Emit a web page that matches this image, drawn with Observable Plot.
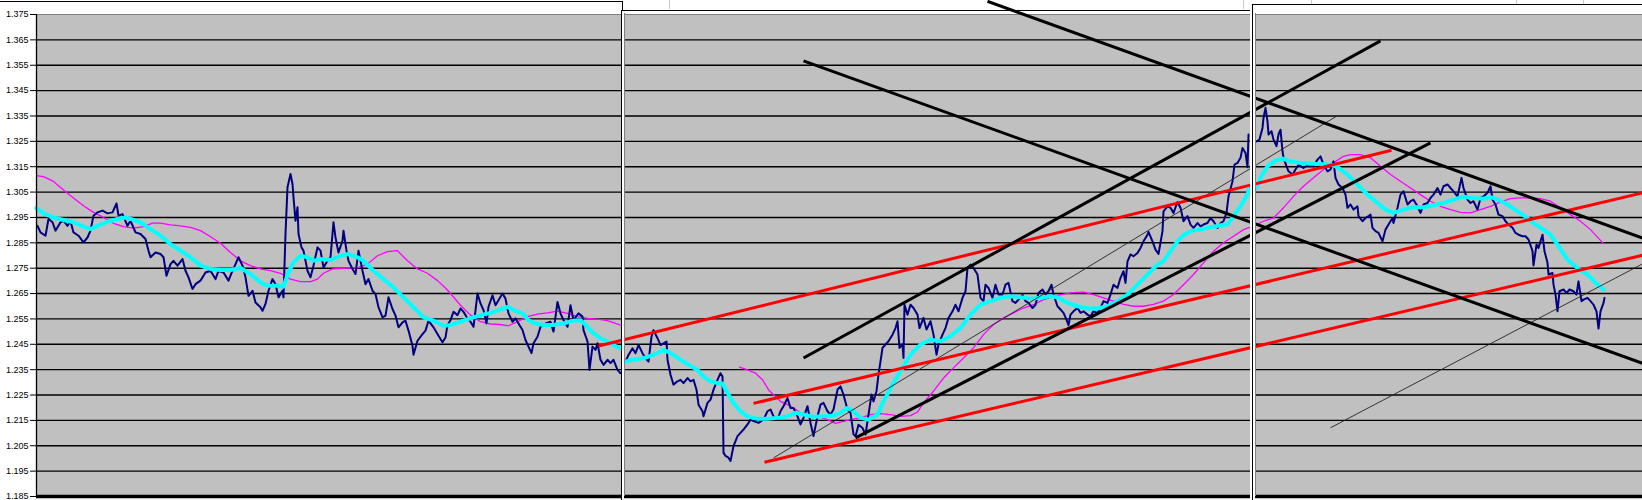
<!DOCTYPE html>
<html><head><meta charset="utf-8">
<script src="https://cdn.jsdelivr.net/npm/d3@7"></script>
<script src="https://cdn.jsdelivr.net/npm/@observablehq/plot@0.6"></script>
<style>
html,body{margin:0;padding:0;background:#fff;}
#wrap{position:relative;width:1642px;height:500px;overflow:hidden;background:#fff;}
#wrap svg{display:block;}
.ov{position:absolute;pointer-events:none;}
</style></head><body><div id="wrap"></div>
<script>
// y tick values
const yTicks = [1.185,1.195,1.205,1.215,1.225,1.235,1.245,1.255,1.265,1.275,1.285,1.295,1.305,1.315,1.325,1.335,1.345,1.355,1.365,1.375];

// time extent (bar index) of each chart window
const panels = [{start:0,end:585},{start:588,end:1214},{start:1219,end:1606}];

// price (bar, value) per window
const price1 = [[1,1.2917],[4,1.2891],[9,1.2878],[12,1.2944],[16,1.2931],[19,1.2898],[24,1.2931],[27,1.2937],[31,1.2917],[34,1.2935],[37,1.2891],[42,1.2878],[47,1.2852],[51,1.2871],[54,1.2898],[57,1.2957],[61,1.2970],[66,1.2977],[71,1.2966],[76,1.2970],[80,1.3005],[82,1.2957],[86,1.2963],[91,1.2917],[94,1.2937],[99,1.2891],[104,1.2885],[109,1.2865],[112,1.2819],[114,1.2793],[119,1.2812],[124,1.2806],[127,1.2793],[130,1.2720],[134,1.2766],[137,1.2779],[141,1.2760],[146,1.2786],[149,1.2740],[152,1.2714],[156,1.2668],[159,1.2687],[164,1.2701],[169,1.2733],[174,1.2740],[179,1.2707],[182,1.2740],[187,1.2733],[192,1.2701],[196,1.2740],[199,1.2766],[202,1.2793],[206,1.2760],[209,1.2714],[212,1.2641],[216,1.2661],[219,1.2615],[224,1.2596],[226,1.2582],[229,1.2609],[232,1.2661],[236,1.2707],[239,1.2687],[242,1.2635],[246,1.2661],[247,1.2635],[249,1.2885],[251,1.3069],[254,1.3121],[256,1.3082],[257,1.3029],[259,1.2937],[261,1.2990],[262,1.2885],[265,1.2832],[267,1.2819],[271,1.2740],[274,1.2714],[277,1.2760],[281,1.2832],[284,1.2819],[287,1.2753],[291,1.2779],[294,1.2793],[297,1.2931],[299,1.2871],[302,1.2812],[306,1.2858],[307,1.2898],[310,1.2819],[312,1.2779],[316,1.2747],[319,1.2727],[322,1.2819],[326,1.2740],[329,1.2687],[332,1.2707],[336,1.2661],[339,1.2648],[342,1.2596],[346,1.2556],[349,1.2563],[352,1.2635],[356,1.2589],[359,1.2563],[362,1.2517],[366,1.2536],[369,1.2543],[372,1.2504],[376,1.2444],[377,1.2409],[381,1.2464],[386,1.2490],[389,1.2504],[392,1.2543],[397,1.2517],[402,1.2484],[406,1.2458],[409,1.2477],[411,1.2526],[414,1.2545],[417,1.2578],[421,1.2565],[424,1.2591],[427,1.2578],[431,1.2552],[434,1.2539],[437,1.2519],[441,1.2650],[444,1.2611],[447,1.2585],[450,1.2532],[452,1.2598],[456,1.2643],[459,1.2604],[462,1.2624],[466,1.2650],[469,1.2630],[472,1.2572],[476,1.2539],[479,1.2552],[482,1.2532],[486,1.2506],[489,1.2467],[492,1.2441],[495,1.2415],[497,1.2454],[501,1.2480],[504,1.2519],[509,1.2532],[514,1.2539],[517,1.2500],[521,1.2617],[524,1.2572],[527,1.2545],[531,1.2519],[534,1.2604],[537,1.2545],[542,1.2572],[546,1.2559],[547,1.2506],[551,1.2461],[553,1.2349],[556,1.2441],[559,1.2428],[561,1.2454],[564,1.2389],[567,1.2369],[571,1.2389],[574,1.2376],[577,1.2389],[581,1.2349],[584,1.2336]];
const price2 = [[589,1.2382],[592,1.2408],[596,1.2434],[599,1.2415],[602,1.2447],[606,1.2415],[609,1.2395],[612,1.2382],[615,1.2480],[617,1.2506],[621,1.2474],[624,1.2447],[627,1.2454],[630,1.2461],[631,1.2389],[634,1.2330],[637,1.2291],[641,1.2304],[644,1.2310],[647,1.2297],[651,1.2317],[654,1.2304],[657,1.2310],[660,1.2271],[662,1.2212],[666,1.2186],[667,1.2166],[671,1.2219],[674,1.2232],[677,1.2271],[681,1.2310],[684,1.2336],[686,1.2323],[687,1.2023],[689,1.2010],[692,1.2003],[694,1.1990],[697,1.2049],[701,1.2088],[704,1.2101],[707,1.2114],[711,1.2134],[714,1.2153],[717,1.2147],[722,1.2140],[727,1.2153],[731,1.2186],[734,1.2193],[737,1.2166],[741,1.2153],[744,1.2186],[747,1.2206],[751,1.2238],[754,1.2199],[757,1.2199],[761,1.2166],[764,1.2134],[767,1.2160],[771,1.2206],[774,1.2140],[777,1.2088],[781,1.2166],[784,1.2212],[787,1.2219],[791,1.2186],[794,1.2173],[797,1.2193],[801,1.2271],[804,1.2284],[807,1.2251],[811,1.2193],[814,1.2180],[817,1.2095],[819,1.2087],[822,1.2133],[826,1.2120],[829,1.2094],[832,1.2173],[835,1.2252],[837,1.2225],[840,1.2265],[842,1.2331],[844,1.2383],[846,1.2436],[849,1.2449],[852,1.2462],[856,1.2488],[859,1.2514],[861,1.2541],[863,1.2436],[866,1.2449],[867,1.2396],[868,1.2606],[871,1.2567],[874,1.2606],[877,1.2593],[881,1.2567],[883,1.2514],[887,1.2554],[890,1.2508],[894,1.2541],[897,1.2488],[900,1.2409],[902,1.2449],[906,1.2488],[909,1.2514],[912,1.2554],[916,1.2580],[919,1.2606],[922,1.2580],[926,1.2633],[929,1.2659],[931,1.2751],[934,1.2764],[937,1.2751],[941,1.2725],[944,1.2633],[947,1.2620],[949,1.2685],[952,1.2672],[956,1.2633],[959,1.2685],[962,1.2646],[966,1.2646],[969,1.2685],[972,1.2692],[976,1.2620],[979,1.2613],[982,1.2626],[986,1.2646],[989,1.2620],[992,1.2613],[996,1.2593],[999,1.2606],[1002,1.2652],[1006,1.2666],[1009,1.2646],[1012,1.2659],[1015,1.2685],[1017,1.2646],[1021,1.2600],[1024,1.2587],[1027,1.2574],[1030,1.2547],[1032,1.2525],[1034,1.2567],[1037,1.2580],[1041,1.2593],[1044,1.2574],[1047,1.2580],[1051,1.2567],[1054,1.2560],[1057,1.2580],[1061,1.2574],[1064,1.2593],[1067,1.2620],[1071,1.2613],[1074,1.2646],[1077,1.2685],[1081,1.2672],[1084,1.2712],[1087,1.2738],[1089,1.2692],[1091,1.2777],[1094,1.2804],[1097,1.2797],[1101,1.2810],[1104,1.2830],[1107,1.2856],[1111,1.2882],[1112,1.2893],[1116,1.2856],[1119,1.2823],[1122,1.2806],[1126,1.2896],[1127,1.2974],[1131,1.2994],[1134,1.2988],[1137,1.2968],[1141,1.3011],[1144,1.2988],[1147,1.2935],[1151,1.2955],[1154,1.2922],[1157,1.2909],[1161,1.2928],[1164,1.2915],[1167,1.2922],[1171,1.2928],[1174,1.2948],[1177,1.2935],[1181,1.2909],[1184,1.2928],[1187,1.2935],[1190,1.2968],[1192,1.3033],[1196,1.3093],[1198,1.3158],[1201,1.3165],[1204,1.3185],[1206,1.3224],[1209,1.3204],[1211,1.3148],[1212,1.3277]];
const price3 = [[1220,1.3250],[1223,1.3257],[1226,1.3303],[1227,1.3342],[1229,1.3382],[1231,1.3329],[1232,1.3277],[1235,1.3290],[1237,1.3257],[1240,1.3231],[1242,1.3277],[1244,1.3296],[1246,1.3211],[1247,1.3185],[1250,1.3152],[1252,1.3132],[1256,1.3119],[1259,1.3139],[1262,1.3158],[1267,1.3145],[1272,1.3158],[1277,1.3152],[1281,1.3178],[1284,1.3191],[1287,1.3158],[1291,1.3132],[1294,1.3139],[1297,1.3171],[1299,1.3106],[1302,1.3080],[1306,1.3066],[1309,1.3040],[1311,1.2988],[1314,1.3001],[1317,1.2981],[1321,1.2994],[1322,1.2955],[1326,1.2935],[1329,1.2948],[1332,1.2955],[1334,1.2961],[1336,1.2909],[1339,1.2896],[1342,1.2889],[1346,1.2856],[1349,1.2902],[1352,1.2922],[1356,1.2948],[1357,1.2928],[1361,1.2988],[1364,1.3040],[1367,1.3053],[1371,1.3001],[1374,1.3014],[1377,1.3020],[1381,1.2994],[1384,1.2968],[1387,1.3001],[1391,1.3007],[1394,1.3027],[1397,1.3040],[1401,1.3066],[1404,1.3040],[1407,1.3073],[1411,1.3080],[1414,1.3066],[1417,1.3053],[1421,1.3033],[1425,1.3106],[1427,1.3066],[1431,1.3020],[1434,1.3007],[1437,1.3014],[1441,1.2981],[1444,1.3027],[1447,1.3033],[1451,1.3047],[1454,1.3073],[1456,1.3020],[1459,1.3001],[1462,1.2961],[1466,1.2955],[1469,1.2935],[1472,1.2922],[1476,1.2909],[1479,1.2889],[1482,1.2882],[1486,1.2876],[1489,1.2876],[1492,1.2863],[1496,1.2817],[1497,1.2761],[1500,1.2843],[1502,1.2830],[1506,1.2882],[1508,1.2817],[1511,1.2771],[1512,1.2725],[1516,1.2731],[1517,1.2685],[1519,1.2646],[1521,1.2580],[1523,1.2659],[1527,1.2666],[1530,1.2652],[1533,1.2666],[1537,1.2659],[1540,1.2646],[1542,1.2698],[1545,1.2620],[1547,1.2626],[1551,1.2633],[1554,1.2620],[1557,1.2606],[1560,1.2580],[1562,1.2512],[1564,1.2580],[1567,1.2613],[1568,1.2633]];

// fast moving average (cyan)
const fast1 = [[0,1.2987],[7,1.2966],[17,1.2950],[27,1.2940],[37,1.2931],[47,1.2914],[54,1.2904],[61,1.2917],[71,1.2933],[81,1.2944],[89,1.2950],[94,1.2944],[104,1.2931],[114,1.2904],[124,1.2878],[134,1.2845],[144,1.2819],[154,1.2793],[164,1.2760],[174,1.2747],[184,1.2743],[194,1.2743],[204,1.2751],[214,1.2727],[224,1.2694],[231,1.2681],[241,1.2681],[247,1.2677],[252,1.2733],[257,1.2773],[264,1.2799],[271,1.2793],[277,1.2779],[284,1.2786],[294,1.2782],[304,1.2799],[312,1.2806],[321,1.2793],[327,1.2779],[337,1.2740],[347,1.2707],[357,1.2674],[367,1.2635],[377,1.2596],[387,1.2556],[397,1.2543],[407,1.2523],[414,1.2526],[424,1.2539],[434,1.2552],[444,1.2565],[454,1.2574],[464,1.2587],[471,1.2598],[477,1.2585],[486,1.2572],[492,1.2545],[499,1.2532],[507,1.2526],[517,1.2526],[527,1.2532],[537,1.2543],[544,1.2545],[551,1.2519],[557,1.2493],[564,1.2474],[571,1.2461],[577,1.2447],[584,1.2434]];
const fast2 = [[589,1.2382],[597,1.2389],[607,1.2395],[617,1.2408],[627,1.2428],[634,1.2415],[644,1.2389],[654,1.2365],[661,1.2349],[667,1.2323],[674,1.2304],[681,1.2297],[686,1.2295],[691,1.2258],[697,1.2219],[704,1.2186],[711,1.2166],[721,1.2156],[731,1.2156],[741,1.2160],[751,1.2166],[759,1.2180],[767,1.2173],[777,1.2164],[787,1.2166],[797,1.2169],[804,1.2180],[811,1.2199],[817,1.2186],[824,1.2160],[832,1.2153],[841,1.2173],[847,1.2225],[856,1.2291],[864,1.2344],[874,1.2409],[884,1.2449],[894,1.2468],[904,1.2462],[914,1.2482],[924,1.2514],[934,1.2567],[944,1.2606],[954,1.2620],[964,1.2633],[974,1.2639],[984,1.2635],[994,1.2630],[1004,1.2633],[1014,1.2639],[1021,1.2635],[1031,1.2613],[1041,1.2600],[1051,1.2591],[1061,1.2591],[1071,1.2600],[1081,1.2620],[1091,1.2646],[1101,1.2685],[1111,1.2725],[1121,1.2764],[1127,1.2777],[1134,1.2817],[1141,1.2856],[1147,1.2880],[1154,1.2896],[1164,1.2903],[1174,1.2911],[1184,1.2919],[1191,1.2922],[1197,1.2955],[1204,1.2994],[1211,1.3040],[1213,1.3066]];
const fast3 = [[1220,1.3066],[1224,1.3106],[1231,1.3152],[1239,1.3174],[1246,1.3182],[1254,1.3171],[1264,1.3165],[1274,1.3162],[1284,1.3161],[1294,1.3158],[1301,1.3148],[1311,1.3119],[1321,1.3080],[1331,1.3040],[1341,1.3007],[1349,1.2981],[1357,1.2968],[1367,1.2981],[1377,1.2990],[1387,1.2990],[1397,1.2997],[1407,1.3007],[1417,1.3020],[1427,1.3032],[1437,1.3027],[1447,1.3024],[1454,1.3030],[1462,1.3020],[1471,1.3001],[1481,1.2974],[1491,1.2948],[1497,1.2928],[1507,1.2902],[1514,1.2882],[1521,1.2843],[1531,1.2784],[1541,1.2751],[1551,1.2725],[1561,1.2685],[1567,1.2666]];

// slow moving average (magenta)
const slow1 = [[0,1.3115],[7,1.3111],[17,1.3092],[27,1.3058],[37,1.3027],[47,1.2996],[57,1.2970],[67,1.2950],[77,1.2927],[87,1.2914],[97,1.2908],[107,1.2914],[116,1.2928],[124,1.2928],[134,1.2921],[144,1.2917],[154,1.2911],[164,1.2898],[174,1.2874],[184,1.2848],[194,1.2812],[204,1.2779],[214,1.2760],[224,1.2747],[234,1.2740],[244,1.2730],[254,1.2707],[264,1.2697],[274,1.2697],[281,1.2707],[287,1.2730],[296,1.2747],[307,1.2749],[321,1.2751],[331,1.2766],[341,1.2799],[351,1.2815],[361,1.2819],[371,1.2779],[381,1.2747],[391,1.2730],[401,1.2701],[409,1.2672],[414,1.2650],[424,1.2604],[434,1.2565],[444,1.2539],[454,1.2530],[464,1.2528],[472,1.2523],[481,1.2539],[491,1.2559],[501,1.2569],[511,1.2574],[521,1.2581],[531,1.2572],[541,1.2559],[551,1.2552],[561,1.2549],[571,1.2543],[584,1.2526]];
const slow2 = [[703,1.2360],[711,1.2349],[719,1.2336],[726,1.2310],[732,1.2271],[737,1.2251],[744,1.2225],[751,1.2212],[757,1.2199],[764,1.2180],[771,1.2173],[781,1.2166],[791,1.2153],[799,1.2138],[804,1.2143],[814,1.2153],[824,1.2160],[834,1.2173],[844,1.2177],[854,1.2173],[864,1.2166],[874,1.2169],[881,1.2183],[887,1.2219],[897,1.2265],[907,1.2317],[917,1.2357],[927,1.2396],[937,1.2436],[947,1.2488],[957,1.2528],[967,1.2554],[977,1.2574],[987,1.2593],[997,1.2606],[1007,1.2626],[1017,1.2639],[1027,1.2648],[1037,1.2654],[1047,1.2656],[1057,1.2646],[1067,1.2633],[1077,1.2620],[1087,1.2607],[1097,1.2600],[1107,1.2600],[1117,1.2607],[1127,1.2620],[1137,1.2646],[1147,1.2685],[1157,1.2725],[1167,1.2771],[1177,1.2817],[1187,1.2850],[1197,1.2876],[1207,1.2902],[1213,1.2911]];
const slow3 = [[1220,1.2922],[1227,1.2935],[1237,1.2948],[1247,1.2988],[1257,1.3033],[1267,1.3073],[1277,1.3106],[1287,1.3139],[1297,1.3165],[1307,1.3191],[1314,1.3198],[1324,1.3198],[1334,1.3185],[1344,1.3152],[1354,1.3119],[1364,1.3093],[1374,1.3066],[1384,1.3040],[1394,1.3014],[1404,1.2994],[1414,1.2981],[1424,1.2970],[1434,1.2968],[1444,1.2981],[1454,1.2994],[1464,1.3011],[1474,1.3024],[1484,1.3027],[1494,1.3027],[1504,1.3024],[1514,1.3014],[1524,1.2988],[1534,1.2961],[1544,1.2935],[1554,1.2902],[1567,1.2847]];

// hand-drawn trend lines (bar, value) -> (bar, value)
const redLines = [
  {x1:562,y1:1.2443,x2:1355,y2:1.3215},
  {x1:717,y1:1.2217,x2:1606,y2:1.3047},
  {x1:728,y1:1.1985,x2:1606,y2:1.2801}
];
const blackLines = [
  {x1:767,y1:1.2396,x2:1344,y2:1.3646},
  {x1:819,y1:1.2081,x2:1394,y2:1.3244},
  {x1:767,y1:1.3567,x2:1606,y2:1.2375},
  {x1:951,y1:1.3802,x2:1606,y2:1.2869}
];
const thinLines = [
  {x1:737,y1:1.2002,x2:1300,y2:1.3349},
  {x1:1294,y1:1.2121,x2:1606,y2:1.2767}
];

const X = d => d[0], Y = d => d[1];
const lineSet = (sets, opts) => sets.map(s => Plot.line(s, {x: X, y: Y, ...opts}));

const chart = Plot.plot({
  width: 1642, height: 500,
  marginLeft: 36, marginRight: 0, marginTop: 14, marginBottom: 4,
  style: {background: "#fff", color: "#000", fontFamily: "Arial, 'Liberation Sans', sans-serif", fontSize: "9px"},
  x: {domain: [0, 1606], axis: null},
  y: {domain: [yTicks[0], yTicks[yTicks.length - 1]], axis: null},
  marks: [
    Plot.rect(panels, {x1: "start", x2: "end", y1: () => yTicks[0], y2: () => yTicks[yTicks.length - 1], fill: "#c0c0c0"}),
    Plot.ruleY(yTicks.slice(1, -1), {stroke: "#000", strokeWidth: 1.4}),
    Plot.ruleY(yTicks.slice(-1), {stroke: "#808080", strokeWidth: 1}),
    Plot.axisY({ticks: yTicks, tickFormat: d3.format(".3f"), tickSize: 6, tickPadding: 2, label: null, fontSize: 9}),
    ...lineSet([slow1, slow2, slow3], {stroke: "#ff00ff", strokeWidth: 1.3}),
    ...lineSet([price1, price2, price3], {stroke: "#000080", strokeWidth: 2}),
    ...lineSet([fast1, fast2, fast3], {stroke: "#00ffff", strokeWidth: 4}),
    Plot.link(thinLines, {x1: "x1", y1: "y1", x2: "x2", y2: "y2", stroke: "#222", strokeWidth: 0.9}),
    Plot.link(redLines, {x1: "x1", y1: "y1", x2: "x2", y2: "y2", stroke: "#ff0000", strokeWidth: 3}),
    Plot.link(blackLines, {x1: "x1", y1: "y1", x2: "x2", y2: "y2", stroke: "#000", strokeWidth: 3}),
    Plot.ruleY(yTicks.slice(0, 1), {stroke: "#000", strokeWidth: 3.5}),
    Plot.ruleX([panels[0].start], {stroke: "#000", strokeWidth: 1.3})
  ]
});
const wrap = document.getElementById("wrap");
wrap.appendChild(chart);

// window chrome overlays (positions from the chart's x scale)
const sx = chart.scale("x");
const px = b => sx.apply(b);
function box(l, t, w, h, c) {
  const d = document.createElement("div");
  d.className = "ov";
  Object.assign(d.style, {left: l + "px", top: t + "px", width: w + "px", height: h + "px", background: c});
  wrap.appendChild(d);
}
const W = 1642, H = 500;
const g1 = px(panels[0].end), g2 = px(panels[1].end);
// window 1 top edge
box(0, 1, g1 + 2, 1, "#000");
box(g1 + 1, 1, 1, 9, "#000");
// gap between window 1 and window 2
box(g1, 10, px(panels[1].start) - g1, H - 10, "#fff");
box(g1, 9.5, g2 - g1 + 2, 1, "#000");
box(g1, 9.5, 1, H, "#000");
box(px(panels[1].start), 13, 1, 483, "#808080");
// gap between window 2 and window 3
box(g2, 4, px(panels[2].start) - g2, H, "#fff");
box(g2 + 1.5, 4, W, 1, "#000");
box(g2 + 1.5, 4, 1, H, "#000");
box(px(panels[2].start), 13, 1, 483, "#808080");
// sheet cell lines peeking above windows
[[669, 9], [1243, 9], [1311, 4], [1516, 4], [1583, 4]].forEach(([l, h]) => box(l, 0, 1, h, "#c8c8c8"));
</script>
</body></html>
